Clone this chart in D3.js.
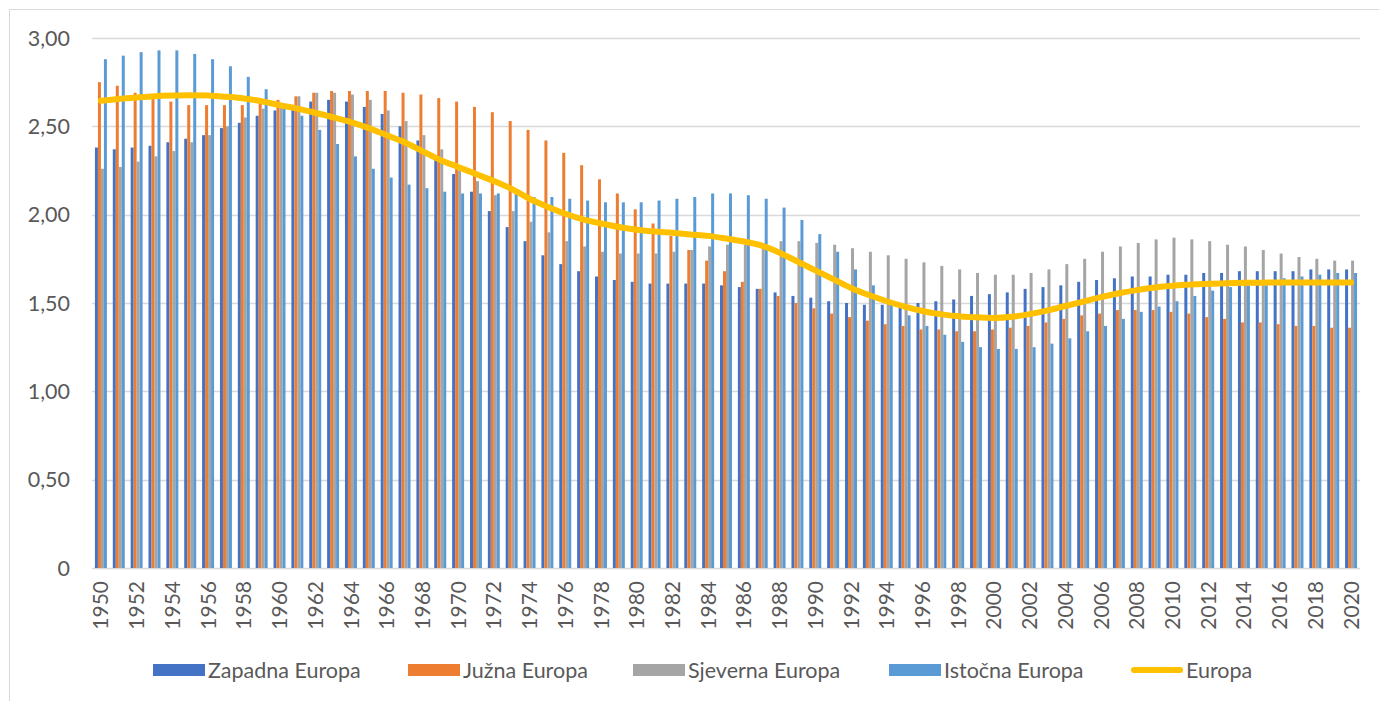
<!DOCTYPE html>
<html>
<head>
<meta charset="utf-8">
<script src="https://cdn.jsdelivr.net/npm/d3@7.9.0/dist/d3.min.js"></script>
<style>
  html, body { margin: 0; padding: 0; background: #fff; }
  svg { display: block; font-family: Lato, "Open Sans", sans-serif; }
</style>
</head>
<body>
<svg id="chart" width="1379" height="701"></svg>
<script>
// Years on the x axis
const years = d3.range(1950, 2021);

// Series values, one per year
const zapadna = [2.38, 2.37, 2.38, 2.39, 2.41, 2.43, 2.45, 2.49, 2.52, 2.56,
  2.59, 2.60, 2.64, 2.65, 2.64, 2.61, 2.57, 2.50, 2.42, 2.31,
  2.23, 2.13, 2.02, 1.93, 1.85, 1.77, 1.72, 1.68, 1.65, 1.63,
  1.62, 1.61, 1.61, 1.61, 1.61, 1.60, 1.59, 1.58, 1.56, 1.54,
  1.53, 1.51, 1.50, 1.49, 1.49, 1.48, 1.50, 1.51, 1.52, 1.54,
  1.55, 1.56, 1.58, 1.59, 1.60, 1.62, 1.63, 1.64, 1.65, 1.65,
  1.66, 1.66, 1.67, 1.67, 1.68, 1.68, 1.68, 1.68, 1.69, 1.69, 1.69];

const juzna = [2.75, 2.73, 2.69, 2.66, 2.64, 2.62, 2.62, 2.62, 2.62, 2.64,
  2.65, 2.67, 2.69, 2.70, 2.70, 2.70, 2.70, 2.69, 2.68, 2.66,
  2.64, 2.61, 2.58, 2.53, 2.48, 2.42, 2.35, 2.28, 2.20, 2.12,
  2.03, 1.95, 1.88, 1.80, 1.74, 1.68, 1.62, 1.58, 1.54, 1.50,
  1.47, 1.44, 1.42, 1.40, 1.38, 1.37, 1.35, 1.35, 1.34, 1.34,
  1.35, 1.36, 1.37, 1.39, 1.41, 1.43, 1.44, 1.46, 1.46, 1.46,
  1.45, 1.44, 1.42, 1.41, 1.39, 1.39, 1.38, 1.37, 1.37, 1.36, 1.36];

const sjeverna = [2.26, 2.27, 2.30, 2.33, 2.36, 2.41, 2.45, 2.50, 2.55, 2.60,
  2.62, 2.67, 2.69, 2.69, 2.68, 2.65, 2.59, 2.53, 2.45, 2.37,
  2.25, 2.19, 2.11, 2.02, 1.96, 1.90, 1.85, 1.82, 1.79, 1.78,
  1.78, 1.78, 1.79, 1.80, 1.82, 1.83, 1.83, 1.84, 1.85, 1.85,
  1.84, 1.83, 1.81, 1.79, 1.77, 1.75, 1.73, 1.71, 1.69, 1.67,
  1.66, 1.66, 1.67, 1.69, 1.72, 1.75, 1.79, 1.82, 1.84, 1.86,
  1.87, 1.86, 1.85, 1.83, 1.82, 1.80, 1.78, 1.76, 1.75, 1.74, 1.74];

const istocna = [2.88, 2.90, 2.92, 2.93, 2.93, 2.91, 2.88, 2.84, 2.78, 2.71,
  2.61, 2.56, 2.48, 2.40, 2.33, 2.26, 2.21, 2.17, 2.15, 2.13,
  2.12, 2.12, 2.12, 2.12, 2.10, 2.10, 2.09, 2.08, 2.07, 2.07,
  2.07, 2.08, 2.09, 2.10, 2.12, 2.12, 2.11, 2.09, 2.04, 1.97,
  1.89, 1.79, 1.69, 1.60, 1.49, 1.43, 1.37, 1.32, 1.28, 1.25,
  1.24, 1.24, 1.25, 1.27, 1.30, 1.34, 1.37, 1.41, 1.45, 1.48,
  1.51, 1.54, 1.57, 1.59, 1.60, 1.60, 1.64, 1.65, 1.66, 1.67, 1.67];

const europa = [2.645, 2.655, 2.663, 2.670, 2.674, 2.676, 2.674, 2.667, 2.658, 2.642,
  2.620, 2.600, 2.577, 2.551, 2.524, 2.49, 2.45, 2.41, 2.36, 2.31,
  2.27, 2.23, 2.19, 2.145, 2.09, 2.045, 2.005, 1.973, 1.950, 1.930,
  1.915, 1.905, 1.897, 1.888, 1.880, 1.865, 1.848, 1.825, 1.785, 1.735,
  1.685, 1.635, 1.585, 1.545, 1.510, 1.480, 1.455, 1.437, 1.425, 1.419,
  1.415, 1.422, 1.437, 1.458, 1.483, 1.508, 1.533, 1.555, 1.573, 1.588,
  1.598, 1.604, 1.609, 1.612, 1.614, 1.615, 1.616, 1.616, 1.616, 1.616, 1.616];

const barSeries = [
  { name: 'Zapadna Europa', values: zapadna, color: '#4472C4' },
  { name: 'Južna Europa', values: juzna, color: '#ED7D31' },
  { name: 'Sjeverna Europa', values: sjeverna, color: '#A5A5A5' },
  { name: 'Istočna Europa', values: istocna, color: '#5B9BD5' }
];
const lineColor = '#FFC000';

const yTicks = [0, 0.5, 1, 1.5, 2, 2.5, 3];

const svg = d3.select('#chart');
const textColor = '#595959';
const gridColor = '#D9D9D9';

// chart area border (left + top only visible)
svg.append('path')
  .attr('d', 'M9.5,701V9.5H1379')
  .attr('fill', 'none')
  .attr('stroke', gridColor);

// Scales
const x = d3.scaleBand()
  .domain(years)
  .range([92, 1360])
  .paddingInner(0.33)
  .paddingOuter(0.165);

const x1 = d3.scaleBand()
  .domain(barSeries.map((d) => d.name))
  .range([0, x.bandwidth()]);

const y = d3.scaleLinear().domain([0, 3]).range([568, 38]);

// Gridlines
svg.append('g')
  .selectAll('line')
  .data(yTicks)
  .join('line')
  .attr('x1', 92)
  .attr('x2', 1360)
  .attr('y1', (d) => Math.round(y(d)) + 0.5)
  .attr('y2', (d) => Math.round(y(d)) + 0.5)
  .attr('stroke', gridColor)
  .attr('stroke-width', 1.3);

// Y labels
const fmt = (v) => (v === 0 ? '0' : d3.format('.2f')(v).replace('.', ','));
svg.append('g')
  .selectAll('text')
  .data(yTicks)
  .join('text')
  .attr('x', 70)
  .attr('y', (d) => y(d))
  .attr('dy', '0.35em')
  .attr('text-anchor', 'end')
  .attr('fill', textColor)
  .attr('font-size', 21.5)
  .text(fmt);

// Bars
barSeries.forEach((s) => {
  svg.append('g')
    .selectAll('rect')
    .data(years)
    .join('rect')
    .attr('x', (d) => x(d) + x1(s.name))
    .attr('width', x1.bandwidth())
    .attr('y', (d, i) => y(s.values[i]))
    .attr('height', (d, i) => y(0) - y(s.values[i]))
    .attr('fill', s.color);
});

// Europa line
const line = d3.line()
  .x((d, i) => x(years[i]) + x.bandwidth() / 2)
  .y((d) => y(d))
  .curve(d3.curveCatmullRom);

svg.append('path')
  .datum(europa)
  .attr('d', line)
  .attr('fill', 'none')
  .attr('stroke', lineColor)
  .attr('stroke-width', 6)
  .attr('stroke-linecap', 'round');

// X labels, every second year, rotated
svg.append('g')
  .selectAll('text')
  .data(years.filter((d) => d % 2 === 0))
  .join('text')
  .attr('transform', (d) => `translate(${x(d) + x.bandwidth() / 2},581) rotate(-90)`)
  .attr('text-anchor', 'end')
  .attr('dy', '0.36em')
  .attr('fill', textColor)
  .attr('font-size', 21)
  .text((d) => d);

// Legend
const legendX = [153, 408, 633, 889, 1131];
const legendY = 670;
const legend = svg.append('g');

barSeries.forEach((s, i) => {
  legend.append('rect')
    .attr('x', legendX[i])
    .attr('y', legendY - 6)
    .attr('width', 52)
    .attr('height', 12)
    .attr('fill', s.color);
  legend.append('text')
    .attr('x', legendX[i] + 55)
    .attr('y', legendY)
    .attr('dy', '0.35em')
    .attr('fill', textColor)
    .attr('font-size', 21.5)
    .text(s.name);
});

legend.append('line')
  .attr('x1', legendX[4] + 3)
  .attr('x2', legendX[4] + 49)
  .attr('y1', legendY)
  .attr('y2', legendY)
  .attr('stroke', lineColor)
  .attr('stroke-width', 6)
  .attr('stroke-linecap', 'round');
legend.append('text')
  .attr('x', legendX[4] + 55)
  .attr('y', legendY)
  .attr('dy', '0.35em')
  .attr('fill', textColor)
  .attr('font-size', 21.5)
  .text('Europa');
</script>
</body>
</html>
